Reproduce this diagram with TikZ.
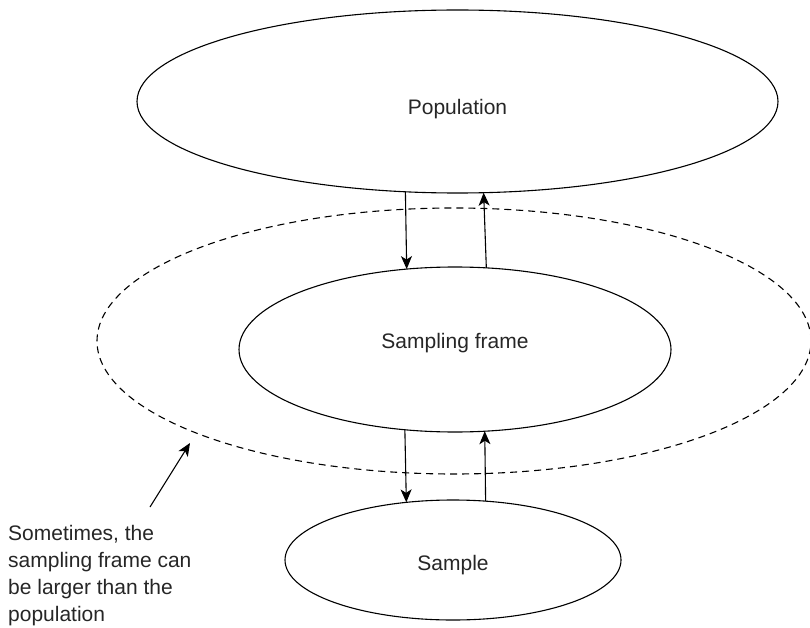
\documentclass[tikz,border=0pt]{standalone}
\usepackage{fontspec}
\setmainfont{Liberation Sans}
\usetikzlibrary{arrows.meta,shapes.geometric}

\tikzset{
  blob/.style={ellipse, draw, line width=1.1pt, inner sep=0pt, outer sep=0pt,
               font=\fontsize{21}{25}\selectfont, text=black!85},
  framering/.style={ellipse, draw, dash pattern=on 7pt off 5pt, line width=1.1pt,
               inner sep=0pt, outer sep=0pt},
  flow/.style={line width=1.1pt, -{Stealth[length=13pt, width=11pt, inset=3.5pt]}},
  note/.style={anchor=north west, inner sep=0pt, align=left,
               font=\fontsize{21}{27}\selectfont, text=black!85}
}
% shift a label inside its shape without changing the shape's size
\newcommand{\nudge}[2]{\raisebox{#1}[\height][\depth]{#2}}

\begin{document}
\begin{tikzpicture}[x=1pt, y=-1pt]
  \useasboundingbox (0,0) rectangle (810,628);

  % the wider sampling frame (dashed)
  \node[framering, minimum width=714pt, minimum height=266pt] (ring) at (454,341) {};

  % the three levels
  \node[blob, minimum width=641pt, minimum height=183pt] (pop) at (457.5,101.5) {\nudge{-8pt}{Population}};
  \node[blob, minimum width=432pt, minimum height=165pt] (frame) at (455,349.5) {\nudge{6pt}{Sampling frame}};
  \node[blob, minimum width=336pt, minimum height=120pt] (sample) at (453,560) {\nudge{-5pt}{Sample}};

  % population <-> sampling frame
  \draw[flow] (pop.240.06) -- (frame.121.65);
  \draw[flow] (frame.69.84) -- (pop.286.78);

  % sampling frame <-> sample
  \draw[flow] (frame.238.35) -- (sample.129.54);
  \draw[flow] (sample.61.48) -- (frame.290.16);

  % side remark
  \node[note] (remark) at (8,525) {Sometimes, the\\sampling frame can\\be larger than the\\population};
  \coordinate (tail) at (150,507);
  \coordinate (tip) at (190,443);
  \draw[flow] (tail) -- (tip);
\end{tikzpicture}
\end{document}
